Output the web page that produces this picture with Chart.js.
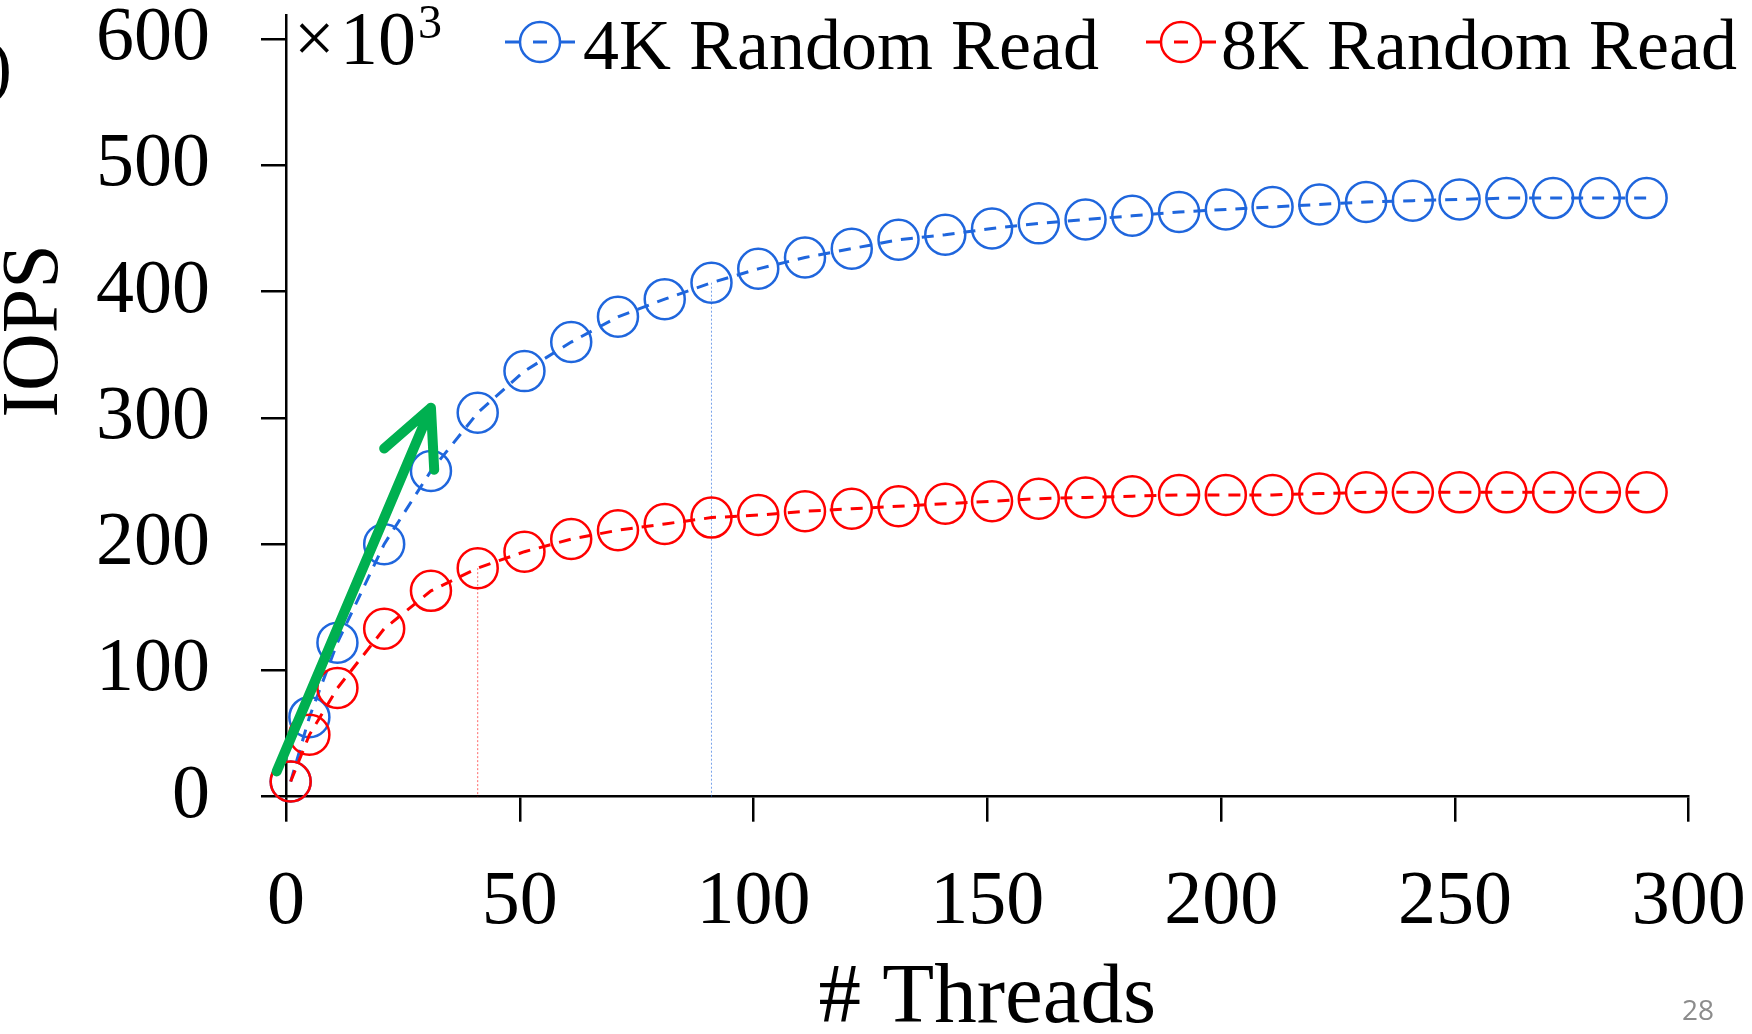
<!DOCTYPE html>
<html>
<head>
<meta charset="utf-8">
<script src="https://cdn.jsdelivr.net/npm/chart.js@4.4.0/dist/chart.umd.min.js"></script>
<style>
  html, body { margin: 0; padding: 0; background: #fff; }
  canvas { display: block; }
</style>
</head>
<body>
<canvas id="chart" width="1752" height="1034"></canvas>
<script>
// values (IOPS in thousands)
const threads = [1, 5, 11, 21, 31, 41, 51, 61, 71, 81, 91, 101, 111, 121, 131, 141, 151, 161, 171, 181, 191, 201, 211, 221, 231, 241, 251, 261, 271, 281, 291];
const iops4k = [12, 63, 122, 200, 258, 304, 337, 360, 380, 394, 407, 418, 427, 434, 441, 445, 450, 454, 457, 460, 463, 465, 467, 469, 471, 472, 473, 474, 474, 474, 474];
const iops8k = [12, 49, 86, 133, 163, 181, 194, 204, 211, 216, 221, 223, 226, 228, 230, 232, 234, 236, 237, 238, 239, 239, 239, 240, 241, 241, 241, 241, 241, 241, 241];
const xTicks = [0, 50, 100, 150, 200, 250, 300];
const yTicks = [0, 100, 200, 300, 400, 500, 600];
const seriesNames = ['4K Random Read', '8K Random Read'];
const dropIndex = [10, 5];      // dotted drop lines: 4K at 91 threads, 8K at 41 threads
const arrowTail = [-2, 20];     // green arrow, in data units
const arrowTip = [31, 308];

const blue = '#1f66dd';
const red = '#ff0000';
const green = '#00b050';
const serif = "'Liberation Serif', 'DejaVu Serif', serif";

function toPoints(ys) {
  return threads.map((t, i) => ({ x: t, y: ys[i] }));
}

const extras = {
  id: 'extras',
  beforeDatasetsDraw(chart) {
    const { ctx, scales: { x, y } } = chart;
    const cols = [blue, red];
    const series = [iops4k, iops8k];
    ctx.save();
    ctx.lineWidth = 1;
    ctx.setLineDash([2, 2]);
    dropIndex.forEach((idx, s) => {
      const px = x.getPixelForValue(threads[idx]);
      ctx.strokeStyle = cols[s];
      ctx.globalAlpha = 0.6;
      ctx.beginPath();
      ctx.moveTo(px, y.getPixelForValue(series[s][idx]));
      ctx.lineTo(px, y.getPixelForValue(0));
      ctx.stroke();
    });
    ctx.restore();
  },
  afterDatasetsDraw(chart) {
    const { ctx, scales: { x, y } } = chart;
    const x0 = x.getPixelForValue(arrowTail[0]), y0 = y.getPixelForValue(arrowTail[1]);
    const x1 = x.getPixelForValue(arrowTip[0]), y1 = y.getPixelForValue(arrowTip[1]);
    const back = Math.atan2(y0 - y1, x0 - x1);
    const wing = 26 * Math.PI / 180, len = 62;
    ctx.save();
    ctx.strokeStyle = green;
    ctx.lineWidth = 10;
    ctx.lineCap = 'round';
    ctx.lineJoin = 'round';
    ctx.beginPath();
    ctx.moveTo(x0, y0);
    ctx.lineTo(x1, y1);
    ctx.moveTo(x1 + len * Math.cos(back + wing), y1 + len * Math.sin(back + wing));
    ctx.lineTo(x1, y1);
    ctx.lineTo(x1 + len * Math.cos(back - wing), y1 + len * Math.sin(back - wing));
    ctx.stroke();
    ctx.restore();
  },
  afterDraw(chart) {
    const { ctx } = chart;
    ctx.save();
    // y axis title (sits above the middle of the axis in the original)
    ctx.translate(36, 331);
    ctx.rotate(-Math.PI / 2);
    ctx.fillStyle = '#000';
    ctx.font = '80px ' + serif;
    ctx.textAlign = 'center';
    ctx.textBaseline = 'middle';
    ctx.fillText('IOPS', 0, 0);
    ctx.restore();

    ctx.save();
    // multiplier label
    ctx.fillStyle = '#000';
    ctx.textBaseline = 'alphabetic';
    ctx.textAlign = 'left';
    ctx.font = '72px ' + serif;
    ctx.fillText('\u00d7', 294, 62);
    ctx.font = '76px ' + serif;
    ctx.fillText('10', 340, 64);
    ctx.font = '48px ' + serif;
    ctx.fillText('3', 418, 38);

    // legend
    const items = [
      { cx: 540, tx: 583, color: blue, label: seriesNames[0] },
      { cx: 1181, tx: 1221, color: red, label: seriesNames[1] }
    ];
    items.forEach(it => {
      const cy = 42;
      ctx.strokeStyle = it.color;
      ctx.lineWidth = 2.5;
      ctx.beginPath();
      ctx.arc(it.cx, cy, 20, 0, Math.PI * 2);
      ctx.stroke();
      ctx.lineWidth = 3;
      ctx.beginPath();
      ctx.moveTo(it.cx - 35, cy); ctx.lineTo(it.cx - 20, cy);
      ctx.moveTo(it.cx - 7, cy); ctx.lineTo(it.cx + 7, cy);
      ctx.moveTo(it.cx + 20, cy); ctx.lineTo(it.cx + 35, cy);
      ctx.stroke();
      ctx.fillStyle = '#000';
      ctx.font = '72px ' + serif;
      ctx.fillText(it.label, it.tx, 69);
    });

    // cropped bracket at the left edge and slide number
    ctx.font = '72px ' + serif;
    ctx.textAlign = 'right';
    ctx.fillText(')', 12, 90);
    ctx.fillStyle = '#8c8c8c';
    ctx.font = "28px 'Open Sans', 'Liberation Sans', sans-serif";
    ctx.textAlign = 'center';
    ctx.textBaseline = 'middle';
    ctx.fillText('28', 1698, 1012);
    ctx.restore();
  }
};

function noPad(s) {
  s.paddingTop = 0;
  s.paddingBottom = 0;
  s.paddingLeft = 0;
  s.paddingRight = 0;
}

new Chart(document.getElementById('chart'), {
  type: 'line',
  data: {
    datasets: [
      {
        label: seriesNames[0],
        data: toPoints(iops4k),
        borderColor: blue,
        borderWidth: 3,
        borderDash: [12, 9],
        pointRadius: 20,
        pointBorderWidth: 2.5,
        pointBorderColor: blue,
        pointBackgroundColor: 'rgba(0,0,0,0)',
        fill: false,
        tension: 0,
        order: 2
      },
      {
        label: seriesNames[1],
        data: toPoints(iops8k),
        borderColor: red,
        borderWidth: 3,
        borderDash: [12, 9],
        pointRadius: 20,
        pointBorderWidth: 2.5,
        pointBorderColor: red,
        pointBackgroundColor: 'rgba(0,0,0,0)',
        fill: false,
        tension: 0,
        order: 1
      }
    ]
  },
  options: {
    responsive: false,
    animation: false,
    devicePixelRatio: 1,
    clip: false,
    layout: { autoPadding: false, padding: { top: 15, right: 63.3, left: 0, bottom: 0 } },
    plugins: {
      legend: { display: false },
      tooltip: { enabled: false }
    },
    scales: {
      x: {
        type: 'linear',
        min: 0,
        max: 300,
        afterBuildTicks: s => { s.ticks = xTicks.map(v => ({ value: v })); },
        afterFit: s => { s.height = 237.3; noPad(s); },
        grid: { drawOnChartArea: false, drawTicks: true, tickLength: 25, color: '#000', lineWidth: 2.5 },
        border: { display: true, color: '#000', width: 2.5 },
        ticks: { color: '#000', padding: 36, maxRotation: 0, font: { family: serif, size: 76 } },
        title: {
          display: true,
          text: '# Threads',
          color: '#000',
          font: { family: serif, size: 85, lineHeight: 0.8 },
          padding: 0
        }
      },
      y: {
        type: 'linear',
        min: 0,
        max: 619,
        afterBuildTicks: s => { s.ticks = yTicks.map(v => ({ value: v })); },
        afterFit: s => { s.width = 286; noPad(s); },
        grid: { drawOnChartArea: false, drawTicks: true, tickLength: 25, color: '#000', lineWidth: 2.5 },
        border: { display: true, color: '#000', width: 2.5 },
        ticks: { color: '#000', padding: 51, font: { family: serif, size: 76 } },
        title: { display: false }
      }
    }
  },
  plugins: [extras]
});
</script>
</body>
</html>
